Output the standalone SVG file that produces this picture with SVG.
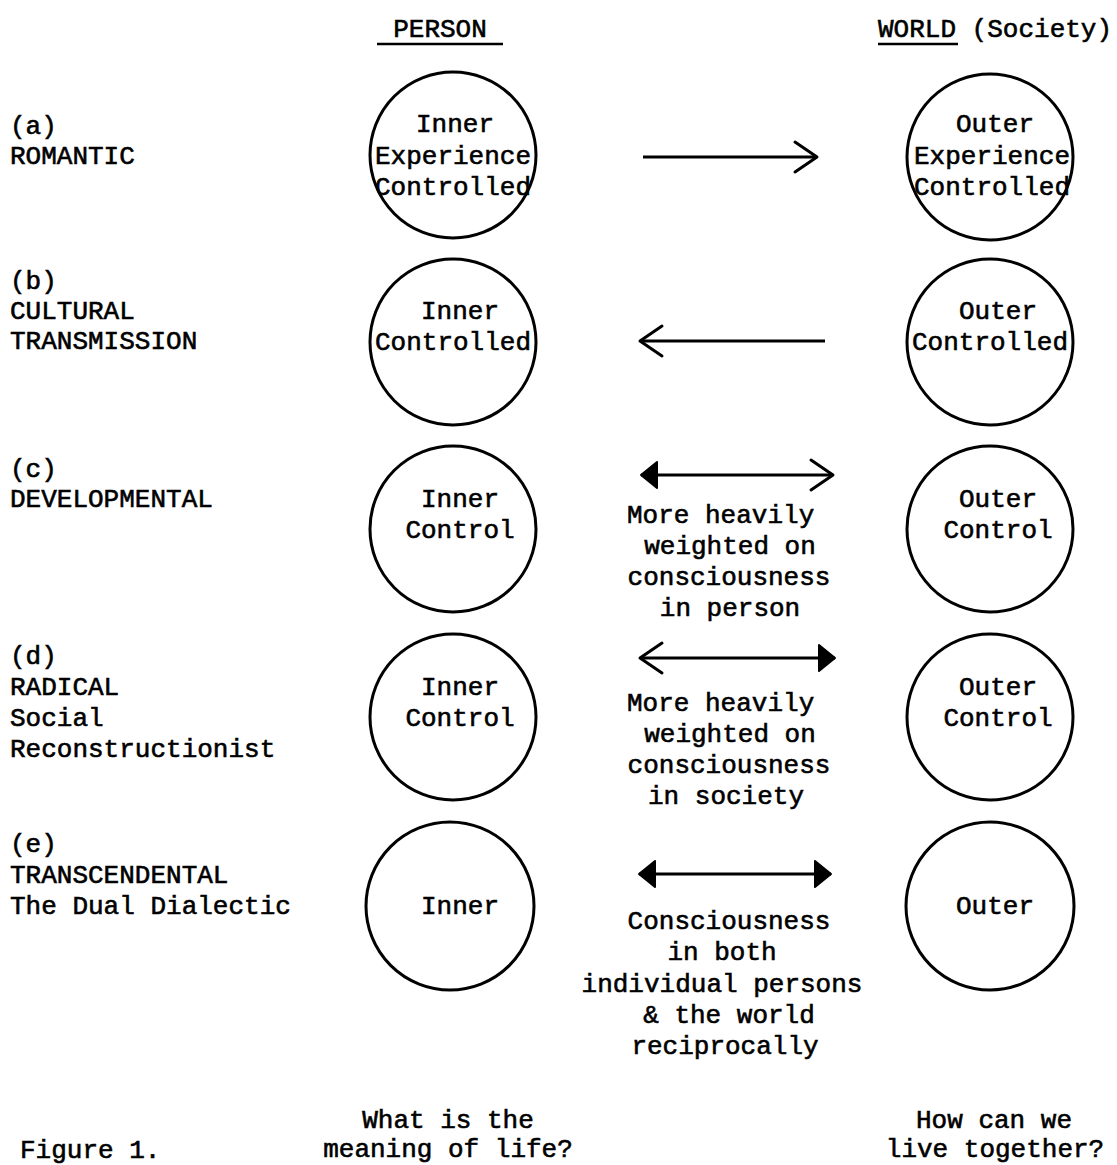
<svg xmlns="http://www.w3.org/2000/svg" width="1117" height="1165" viewBox="0 0 1117 1165">
<style>
text{font-family:"Liberation Mono","Courier New",monospace;font-size:26px;fill:#000;stroke:#000;stroke-width:0.6}
.c{text-anchor:middle}
.node circle{fill:none;stroke:#000;stroke-width:3}
.conn line{stroke:#000;stroke-width:3}
</style>
<defs>
<marker id="open" viewBox="0 0 28 36" refX="25" refY="18" markerWidth="28" markerHeight="36" markerUnits="userSpaceOnUse" orient="auto-start-reverse">
<path d="M3,3 L25,18 L3,33" fill="none" stroke="#000" stroke-width="3" stroke-linecap="round" stroke-linejoin="round"/>
</marker>
<marker id="fill" viewBox="0 0 20 30" refX="18" refY="15" markerWidth="20" markerHeight="30" markerUnits="userSpaceOnUse" orient="auto-start-reverse">
<path d="M2,2 L18,15 L2,28 Z" fill="#000" stroke="#000" stroke-width="2" stroke-linejoin="round"/>
</marker>
</defs>
<rect width="1117" height="1165" fill="#fff"/>
<g id="headers">
<text class="c" x="440" y="37">PERSON</text>
<line x1="377" y1="44" x2="503" y2="44" stroke="#000" stroke-width="2.5"/>
<text x="878" y="37">WORLD (Society)</text>
<line x1="878" y1="44" x2="958" y2="44" stroke="#000" stroke-width="2.5"/>
</g>
<g id="labels">
<text x="10" y="134">(a)</text>
<text x="10" y="164">ROMANTIC</text>
<text x="10" y="289">(b)</text>
<text x="10" y="319">CULTURAL</text>
<text x="10" y="349">TRANSMISSION</text>
<text x="10" y="477">(c)</text>
<text x="10" y="507">DEVELOPMENTAL</text>
<text x="10" y="664">(d)</text>
<text x="10" y="695">RADICAL</text>
<text x="10" y="726">Social</text>
<text x="10" y="757">Reconstructionist</text>
<text x="10" y="852">(e)</text>
<text x="10" y="883">TRANSCENDENTAL</text>
<text x="10" y="914">The Dual Dialectic</text>
</g>
<g id="node-a-inner" class="node">
<circle cx="453" cy="155" r="83"/>
<text class="c" x="455" y="132">Inner</text>
<text class="c" x="453" y="164">Experience</text>
<text class="c" x="453" y="195">Controlled</text>
</g>
<g id="node-a-outer" class="node">
<circle cx="990" cy="157" r="83"/>
<text class="c" x="995" y="132">Outer</text>
<text class="c" x="992" y="164">Experience</text>
<text class="c" x="992" y="195">Controlled</text>
</g>
<g id="node-b-inner" class="node">
<circle cx="453" cy="342" r="83"/>
<text class="c" x="460" y="319">Inner</text>
<text class="c" x="453" y="350">Controlled</text>
</g>
<g id="node-b-outer" class="node">
<circle cx="990" cy="342" r="83"/>
<text class="c" x="998" y="319">Outer</text>
<text class="c" x="990" y="350">Controlled</text>
</g>
<g id="node-c-inner" class="node">
<circle cx="453" cy="529" r="83"/>
<text class="c" x="460" y="507">Inner</text>
<text class="c" x="460" y="538">Control</text>
</g>
<g id="node-c-outer" class="node">
<circle cx="990" cy="529" r="83"/>
<text class="c" x="998" y="507">Outer</text>
<text class="c" x="998" y="538">Control</text>
</g>
<g id="node-d-inner" class="node">
<circle cx="453" cy="717" r="83"/>
<text class="c" x="460" y="695">Inner</text>
<text class="c" x="460" y="726">Control</text>
</g>
<g id="node-d-outer" class="node">
<circle cx="990" cy="717" r="83"/>
<text class="c" x="998" y="695">Outer</text>
<text class="c" x="998" y="726">Control</text>
</g>
<g id="node-e-inner" class="node">
<circle cx="450" cy="906" r="84"/>
<text class="c" x="460" y="914">Inner</text>
</g>
<g id="node-e-outer" class="node">
<circle cx="990" cy="906" r="84"/>
<text class="c" x="995" y="914">Outer</text>
</g>
<g id="connectors" class="conn">
<line x1="643" y1="157" x2="817" y2="157" marker-end="url(#open)"/>
<line x1="640" y1="341" x2="825" y2="341" marker-start="url(#open)"/>
<line x1="641" y1="475" x2="833" y2="475" marker-start="url(#fill)" marker-end="url(#open)"/>
<line x1="640" y1="658" x2="835" y2="658" marker-start="url(#open)" marker-end="url(#fill)"/>
<line x1="639" y1="874" x2="831" y2="874" marker-start="url(#fill)" marker-end="url(#fill)"/>
</g>
<g id="connector-labels">
<text x="627" y="523">More heavily</text>
<text class="c" x="730" y="554">weighted on</text>
<text class="c" x="729" y="585">consciousness</text>
<text class="c" x="730" y="616">in person</text>
<text x="627" y="711">More heavily</text>
<text class="c" x="730" y="742">weighted on</text>
<text class="c" x="729" y="773">consciousness</text>
<text class="c" x="726" y="804">in society</text>
<text class="c" x="729" y="929">Consciousness</text>
<text class="c" x="722" y="960">in both</text>
<text class="c" x="722" y="992">individual persons</text>
<text class="c" x="729" y="1023">&amp; the world</text>
<text class="c" x="725" y="1054">reciprocally</text>
</g>
<g id="footer">
<text class="c" x="448" y="1128">What is the</text>
<text class="c" x="448" y="1157">meaning of life?</text>
<text x="20" y="1158">Figure 1.</text>
<text class="c" x="994" y="1128">How can we</text>
<text class="c" x="995" y="1157">live together?</text>
</g>
</svg>
